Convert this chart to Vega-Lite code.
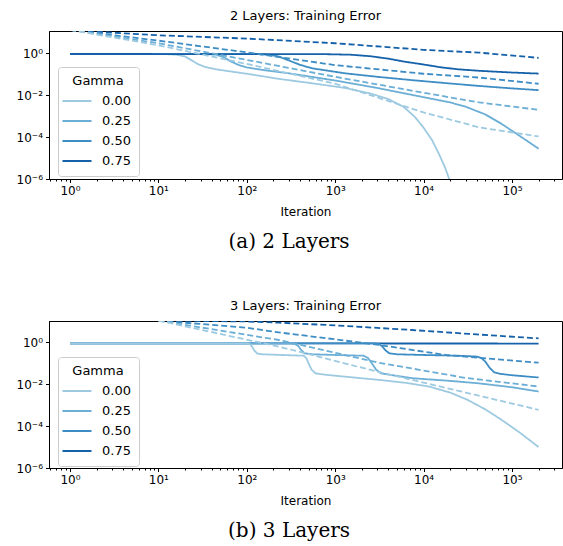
{
"$schema": "https://vega.github.io/schema/vega-lite/v6.json",
"padding": {"left": 15, "top": 9, "right": 0, "bottom": 0},
"config": {
  "font": "DejaVu Sans",
  "view": {"stroke": "black", "strokeWidth": 1},
  "axis": {"domainColor": "black", "tickColor": "black", "labelColor": "black", "labelFontSize": 12, "titleFontSize": 12, "titleFontWeight": "normal", "titleColor": "black", "grid": false, "tickSize": 3.5, "labelPadding": 3, "titlePadding": 10},
  "title": {"fontSize": 13, "fontWeight": "normal", "color": "black"},
  "legend": {"orient": "none", "legendX": 9, "legendY": 36, "fillColor": "rgba(255,255,255,0.8)", "strokeColor": "#cccccc", "cornerRadius": 3, "padding": 8, "titleFontWeight": "normal", "titleFontSize": 13, "titleColor": "black", "labelFontSize": 13, "labelColor": "black", "symbolType": "M-1.45,0H1.45", "symbolSize": 400, "symbolStrokeWidth": 2, "titleAnchor": "middle", "rowPadding": 2, "labelOffset": 14, "titlePadding": 2}
},
"data": {"values": [
{"p":"a","g":"0.00","k":"s","x":1,"y":0.92},{"p":"a","g":"0.00","k":"s","x":12,"y":0.91},{"p":"a","g":"0.00","k":"s","x":16,"y":0.85},{"p":"a","g":"0.00","k":"s","x":20,"y":0.7},{"p":"a","g":"0.00","k":"s","x":24,"y":0.45},{"p":"a","g":"0.00","k":"s","x":28,"y":0.3},{"p":"a","g":"0.00","k":"s","x":34,"y":0.22},{"p":"a","g":"0.00","k":"s","x":45,"y":0.17},{"p":"a","g":"0.00","k":"s","x":70,"y":0.13},{"p":"a","g":"0.00","k":"s","x":100,"y":0.105},{"p":"a","g":"0.00","k":"s","x":230,"y":0.06},{"p":"a","g":"0.00","k":"s","x":600,"y":0.035},{"p":"a","g":"0.00","k":"s","x":1300,"y":0.022},{"p":"a","g":"0.00","k":"s","x":2500,"y":0.012},{"p":"a","g":"0.00","k":"s","x":4000,"y":0.0065},{"p":"a","g":"0.00","k":"s","x":6000,"y":0.0027},{"p":"a","g":"0.00","k":"s","x":8000,"y":0.0009},{"p":"a","g":"0.00","k":"s","x":10000,"y":0.00028},{"p":"a","g":"0.00","k":"s","x":12500,"y":0.00007},{"p":"a","g":"0.00","k":"s","x":15000,"y":0.000015},{"p":"a","g":"0.00","k":"s","x":17500,"y":0.0000035},{"p":"a","g":"0.00","k":"s","x":19500,"y":0.000001},{"p":"a","g":"0.00","k":"s","x":21000,"y":0.0000004},
{"p":"a","g":"0.25","k":"s","x":1,"y":0.92},{"p":"a","g":"0.25","k":"s","x":35,"y":0.91},{"p":"a","g":"0.25","k":"s","x":45,"y":0.85},{"p":"a","g":"0.25","k":"s","x":55,"y":0.65},{"p":"a","g":"0.25","k":"s","x":65,"y":0.42},{"p":"a","g":"0.25","k":"s","x":80,"y":0.28},{"p":"a","g":"0.25","k":"s","x":100,"y":0.21},{"p":"a","g":"0.25","k":"s","x":150,"y":0.16},{"p":"a","g":"0.25","k":"s","x":300,"y":0.11},{"p":"a","g":"0.25","k":"s","x":1000,"y":0.05},{"p":"a","g":"0.25","k":"s","x":3000,"y":0.022},{"p":"a","g":"0.25","k":"s","x":10000,"y":0.008},{"p":"a","g":"0.25","k":"s","x":20000,"y":0.0045},{"p":"a","g":"0.25","k":"s","x":30000,"y":0.0028},{"p":"a","g":"0.25","k":"s","x":50000,"y":0.0012},{"p":"a","g":"0.25","k":"s","x":76000,"y":0.00043},{"p":"a","g":"0.25","k":"s","x":120000,"y":0.00012},{"p":"a","g":"0.25","k":"s","x":200000,"y":0.000028},
{"p":"a","g":"0.50","k":"s","x":1,"y":0.92},{"p":"a","g":"0.50","k":"s","x":130,"y":0.91},{"p":"a","g":"0.50","k":"s","x":180,"y":0.85},{"p":"a","g":"0.50","k":"s","x":230,"y":0.7},{"p":"a","g":"0.50","k":"s","x":300,"y":0.45},{"p":"a","g":"0.50","k":"s","x":400,"y":0.28},{"p":"a","g":"0.50","k":"s","x":550,"y":0.19},{"p":"a","g":"0.50","k":"s","x":800,"y":0.15},{"p":"a","g":"0.50","k":"s","x":1300,"y":0.11},{"p":"a","g":"0.50","k":"s","x":3000,"y":0.075},{"p":"a","g":"0.50","k":"s","x":7400,"y":0.052},{"p":"a","g":"0.50","k":"s","x":20000,"y":0.036},{"p":"a","g":"0.50","k":"s","x":42600,"y":0.0275},{"p":"a","g":"0.50","k":"s","x":100000,"y":0.021},{"p":"a","g":"0.50","k":"s","x":200000,"y":0.0174},
{"p":"a","g":"0.75","k":"s","x":1,"y":0.92},{"p":"a","g":"0.75","k":"s","x":700,"y":0.91},{"p":"a","g":"0.75","k":"s","x":1500,"y":0.85},{"p":"a","g":"0.75","k":"s","x":2500,"y":0.72},{"p":"a","g":"0.75","k":"s","x":4000,"y":0.55},{"p":"a","g":"0.75","k":"s","x":6000,"y":0.4},{"p":"a","g":"0.75","k":"s","x":10000,"y":0.29},{"p":"a","g":"0.75","k":"s","x":16000,"y":0.21},{"p":"a","g":"0.75","k":"s","x":25000,"y":0.17},{"p":"a","g":"0.75","k":"s","x":42600,"y":0.145},{"p":"a","g":"0.75","k":"s","x":100000,"y":0.12},{"p":"a","g":"0.75","k":"s","x":200000,"y":0.107},
{"p":"a","g":"0.75","k":"d","x":1,"y":12.6},{"p":"a","g":"0.75","k":"d","x":10,"y":7.2},{"p":"a","g":"0.75","k":"d","x":100,"y":5.0},{"p":"a","g":"0.75","k":"d","x":1000,"y":3.0},{"p":"a","g":"0.75","k":"d","x":10000,"y":1.45},{"p":"a","g":"0.75","k":"d","x":42600,"y":1.07},{"p":"a","g":"0.75","k":"d","x":200000,"y":0.6},
{"p":"a","g":"0.50","k":"d","x":1,"y":13},{"p":"a","g":"0.50","k":"d","x":10,"y":4.0},{"p":"a","g":"0.50","k":"d","x":100,"y":1.1},{"p":"a","g":"0.50","k":"d","x":1000,"y":0.27},{"p":"a","g":"0.50","k":"d","x":10000,"y":0.105},{"p":"a","g":"0.50","k":"d","x":42600,"y":0.069},{"p":"a","g":"0.50","k":"d","x":200000,"y":0.035},
{"p":"a","g":"0.25","k":"d","x":1,"y":13},{"p":"a","g":"0.25","k":"d","x":10,"y":3.0},{"p":"a","g":"0.25","k":"d","x":100,"y":0.48},{"p":"a","g":"0.25","k":"d","x":1000,"y":0.075},{"p":"a","g":"0.25","k":"d","x":10000,"y":0.013},{"p":"a","g":"0.25","k":"d","x":42600,"y":0.0045},{"p":"a","g":"0.25","k":"d","x":200000,"y":0.002},
{"p":"a","g":"0.00","k":"d","x":1,"y":13},{"p":"a","g":"0.00","k":"d","x":10,"y":2.4},{"p":"a","g":"0.00","k":"d","x":100,"y":0.31},{"p":"a","g":"0.00","k":"d","x":1000,"y":0.035},{"p":"a","g":"0.00","k":"d","x":10000,"y":0.0015},{"p":"a","g":"0.00","k":"d","x":42600,"y":0.00029},{"p":"a","g":"0.00","k":"d","x":200000,"y":0.000107},
{"p":"b","g":"0.75","k":"s","x":1,"y":0.9},{"p":"b","g":"0.75","k":"s","x":200000,"y":0.88},
{"p":"b","g":"0.50","k":"s","x":1,"y":0.9},{"p":"b","g":"0.50","k":"s","x":2700,"y":0.9},{"p":"b","g":"0.50","k":"s","x":3100,"y":0.85},{"p":"b","g":"0.50","k":"s","x":3400,"y":0.65},{"p":"b","g":"0.50","k":"s","x":3700,"y":0.42},{"p":"b","g":"0.50","k":"s","x":4100,"y":0.3},{"p":"b","g":"0.50","k":"s","x":5000,"y":0.27},{"p":"b","g":"0.50","k":"s","x":10000,"y":0.25},{"p":"b","g":"0.50","k":"s","x":25000,"y":0.23},{"p":"b","g":"0.50","k":"s","x":40000,"y":0.21},{"p":"b","g":"0.50","k":"s","x":45000,"y":0.18},{"p":"b","g":"0.50","k":"s","x":50000,"y":0.12},{"p":"b","g":"0.50","k":"s","x":56000,"y":0.06},{"p":"b","g":"0.50","k":"s","x":63000,"y":0.037},{"p":"b","g":"0.50","k":"s","x":75000,"y":0.031},{"p":"b","g":"0.50","k":"s","x":100000,"y":0.027},{"p":"b","g":"0.50","k":"s","x":200000,"y":0.021},
{"p":"b","g":"0.25","k":"s","x":1,"y":0.9},{"p":"b","g":"0.25","k":"s","x":320,"y":0.9},{"p":"b","g":"0.25","k":"s","x":350,"y":0.85},{"p":"b","g":"0.25","k":"s","x":385,"y":0.65},{"p":"b","g":"0.25","k":"s","x":415,"y":0.42},{"p":"b","g":"0.25","k":"s","x":450,"y":0.3},{"p":"b","g":"0.25","k":"s","x":550,"y":0.27},{"p":"b","g":"0.25","k":"s","x":1000,"y":0.25},{"p":"b","g":"0.25","k":"s","x":2100,"y":0.23},{"p":"b","g":"0.25","k":"s","x":2350,"y":0.18},{"p":"b","g":"0.25","k":"s","x":2600,"y":0.1},{"p":"b","g":"0.25","k":"s","x":2900,"y":0.05},{"p":"b","g":"0.25","k":"s","x":3300,"y":0.033},{"p":"b","g":"0.25","k":"s","x":4000,"y":0.029},{"p":"b","g":"0.25","k":"s","x":7400,"y":0.0195},{"p":"b","g":"0.25","k":"s","x":20000,"y":0.0145},{"p":"b","g":"0.25","k":"s","x":42600,"y":0.011},{"p":"b","g":"0.25","k":"s","x":100000,"y":0.0072},{"p":"b","g":"0.25","k":"s","x":200000,"y":0.0045},
{"p":"b","g":"0.00","k":"s","x":1,"y":0.9},{"p":"b","g":"0.00","k":"s","x":100,"y":0.9},{"p":"b","g":"0.00","k":"s","x":108,"y":0.85},{"p":"b","g":"0.00","k":"s","x":115,"y":0.62},{"p":"b","g":"0.00","k":"s","x":122,"y":0.4},{"p":"b","g":"0.00","k":"s","x":132,"y":0.29},{"p":"b","g":"0.00","k":"s","x":150,"y":0.27},{"p":"b","g":"0.00","k":"s","x":250,"y":0.25},{"p":"b","g":"0.00","k":"s","x":440,"y":0.23},{"p":"b","g":"0.00","k":"s","x":470,"y":0.18},{"p":"b","g":"0.00","k":"s","x":500,"y":0.1},{"p":"b","g":"0.00","k":"s","x":540,"y":0.05},{"p":"b","g":"0.00","k":"s","x":600,"y":0.033},{"p":"b","g":"0.00","k":"s","x":800,"y":0.028},{"p":"b","g":"0.00","k":"s","x":3100,"y":0.0162},{"p":"b","g":"0.00","k":"s","x":6300,"y":0.0117},{"p":"b","g":"0.00","k":"s","x":11500,"y":0.0078},{"p":"b","g":"0.00","k":"s","x":20000,"y":0.004},{"p":"b","g":"0.00","k":"s","x":31600,"y":0.00178},{"p":"b","g":"0.00","k":"s","x":50000,"y":0.00063},{"p":"b","g":"0.00","k":"s","x":79400,"y":0.000178},{"p":"b","g":"0.00","k":"s","x":126000,"y":0.000045},{"p":"b","g":"0.00","k":"s","x":200000,"y":0.00001},
{"p":"b","g":"0.75","k":"d","x":10,"y":11},{"p":"b","g":"0.75","k":"d","x":100,"y":10},{"p":"b","g":"0.75","k":"d","x":230,"y":8.7},{"p":"b","g":"0.75","k":"d","x":1000,"y":6.5},{"p":"b","g":"0.75","k":"d","x":7400,"y":3.9},{"p":"b","g":"0.75","k":"d","x":40000,"y":2.4},{"p":"b","g":"0.75","k":"d","x":200000,"y":1.55},
{"p":"b","g":"0.50","k":"d","x":10,"y":11},{"p":"b","g":"0.50","k":"d","x":100,"y":5},{"p":"b","g":"0.50","k":"d","x":230,"y":3.0},{"p":"b","g":"0.50","k":"d","x":1000,"y":1.4},{"p":"b","g":"0.50","k":"d","x":3100,"y":0.76},{"p":"b","g":"0.50","k":"d","x":17800,"y":0.25},{"p":"b","g":"0.50","k":"d","x":200000,"y":0.107},
{"p":"b","g":"0.25","k":"d","x":10,"y":11},{"p":"b","g":"0.25","k":"d","x":230,"y":1.3},{"p":"b","g":"0.25","k":"d","x":3000,"y":0.11},{"p":"b","g":"0.25","k":"d","x":30000,"y":0.02},{"p":"b","g":"0.25","k":"d","x":200000,"y":0.0078},
{"p":"b","g":"0.00","k":"d","x":10,"y":11},{"p":"b","g":"0.00","k":"d","x":230,"y":0.63},{"p":"b","g":"0.00","k":"d","x":3000,"y":0.04},{"p":"b","g":"0.00","k":"d","x":30000,"y":0.004},{"p":"b","g":"0.00","k":"d","x":200000,"y":0.0006}
]},
"spacing": 47,
"resolve": {"scale": {"color": "independent", "strokeDash": "independent", "x": "independent", "y": "independent"}, "legend": {"color": "independent"}},
"vconcat": [
 {"title": {"text": "(a) 2 Layers", "orient": "bottom", "font": "DejaVu Serif", "fontSize": 20, "fontWeight": "normal", "anchor": "middle", "offset": 14},
  "resolve": {"scale": {"color": "independent", "strokeDash": "independent"}, "legend": {"color": "independent"}},
  "vconcat": [{
   "title": {"text": "2 Layers: Training Error", "offset": 8},
   "width": 513, "height": 148,
   "transform": [{"filter": "datum.p == 'a'"}],
   "mark": {"type": "line", "clip": true, "strokeWidth": 1.8},
   "encoding": {
    "x": {"field": "x", "type": "quantitative", "scale": {"type": "log", "domain": [0.5787, 368000], "nice": false}, "axis": {"title": "Iteration", "values": [0.6,0.7,0.8,0.9,1,2,3,4,5,6,7,8,9,10,20,30,40,50,60,70,80,90,100,200,300,400,500,600,700,800,900,1000,2000,3000,4000,5000,6000,7000,8000,9000,10000,20000,30000,40000,50000,60000,70000,80000,90000,100000,200000,300000], "labelExpr": "abs(log(datum.value)/LN10 - round(log(datum.value)/LN10)) < 0.000001 ? '10' + ['⁰','¹','²','³','⁴','⁵'][round(log(datum.value)/LN10)] : ''", "labelOverlap": false, "labelFlush": false, "tickSize": {"condition": {"test": "abs(log(datum.value)/LN10 - round(log(datum.value)/LN10)) < 0.000001", "value": 3.5}, "value": 2}}},
    "y": {"field": "y", "type": "quantitative", "scale": {"type": "log", "domain": [0.000001, 11.5], "nice": false}, "axis": {"title": null, "values": [0.000001, 0.0001, 0.01, 1], "labelExpr": "datum.value >= 0.5 ? '10⁰' : datum.value > 0.005 ? '10⁻²' : datum.value > 0.00005 ? '10⁻⁴' : '10⁻⁶'"}},
    "color": {"field": "g", "type": "nominal", "title": "Gamma", "scale": {"domain": ["0.00","0.25","0.50","0.75"], "range": ["#9ecae1","#6baed6","#3d8dc4","#1561a9"]}},
    "strokeDash": {"field": "k", "type": "nominal", "legend": null, "scale": {"domain": ["s","d"], "range": [[1,0],[6,3]]}}
   }
  }]
 },
 {"title": {"text": "(b) 3 Layers", "orient": "bottom", "font": "DejaVu Serif", "fontSize": 20, "fontWeight": "normal", "anchor": "middle", "offset": 14},
  "resolve": {"scale": {"color": "independent", "strokeDash": "independent"}, "legend": {"color": "independent"}},
  "vconcat": [{
   "title": {"text": "3 Layers: Training Error", "offset": 8},
   "width": 513, "height": 147,
   "transform": [{"filter": "datum.p == 'b'"}],
   "mark": {"type": "line", "clip": true, "strokeWidth": 1.8},
   "encoding": {
    "x": {"field": "x", "type": "quantitative", "scale": {"type": "log", "domain": [0.5787, 368000], "nice": false}, "axis": {"title": "Iteration", "values": [0.6,0.7,0.8,0.9,1,2,3,4,5,6,7,8,9,10,20,30,40,50,60,70,80,90,100,200,300,400,500,600,700,800,900,1000,2000,3000,4000,5000,6000,7000,8000,9000,10000,20000,30000,40000,50000,60000,70000,80000,90000,100000,200000,300000], "labelExpr": "abs(log(datum.value)/LN10 - round(log(datum.value)/LN10)) < 0.000001 ? '10' + ['⁰','¹','²','³','⁴','⁵'][round(log(datum.value)/LN10)] : ''", "labelOverlap": false, "labelFlush": false, "tickSize": {"condition": {"test": "abs(log(datum.value)/LN10 - round(log(datum.value)/LN10)) < 0.000001", "value": 3.5}, "value": 2}}},
    "y": {"field": "y", "type": "quantitative", "scale": {"type": "log", "domain": [0.000001, 10.5], "nice": false}, "axis": {"title": null, "values": [0.000001, 0.0001, 0.01, 1], "labelExpr": "datum.value >= 0.5 ? '10⁰' : datum.value > 0.005 ? '10⁻²' : datum.value > 0.00005 ? '10⁻⁴' : '10⁻⁶'"}},
    "color": {"field": "g", "type": "nominal", "title": "Gamma", "scale": {"domain": ["0.00","0.25","0.50","0.75"], "range": ["#9ecae1","#6baed6","#3d8dc4","#1561a9"]}},
    "strokeDash": {"field": "k", "type": "nominal", "legend": null, "scale": {"domain": ["s","d"], "range": [[1,0],[6,3]]}}
   }
  }]
 }
]
}
